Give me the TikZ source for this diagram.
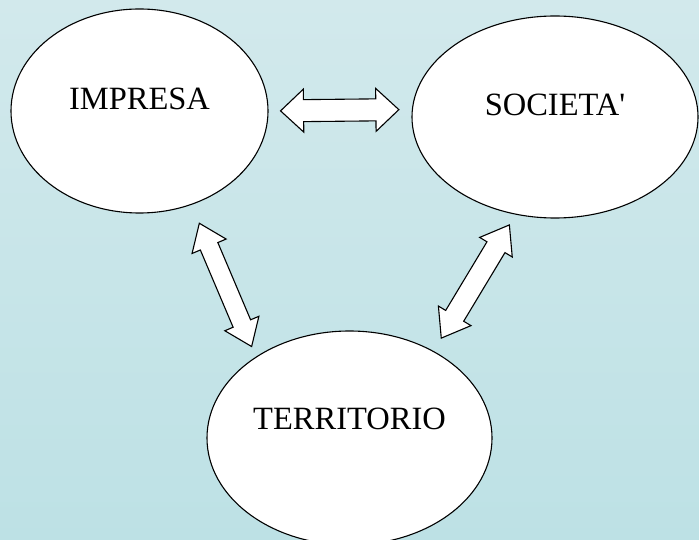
\documentclass[tikz,border=0pt]{standalone}
\usepackage{fontspec}
\setmainfont{Liberation Serif}
\usetikzlibrary{calc,shapes.geometric}
\definecolor{bgtop}{RGB}{210,233,236}
\definecolor{bgbot}{RGB}{189,225,229}
\tikzset{
  blob/.style={ellipse,draw,fill=white,line width=1.1bp,inner sep=0pt},
  word/.style={inner sep=0pt,font=\fontsize{32.5bp}{39bp}\selectfont},
  blockarrow/.style={draw,fill=white,line width=1.1bp,line join=miter}
}
% ends, shaft half width, head half width, head length
\newcommand{\dualarrow}[5]{%
  \draw[blockarrow] (#1)
    -- ($(#1)!#5!(#2)!#4!90:(#2)$)
    -- ($(#1)!#5!(#2)!#3!90:(#2)$)
    -- ($(#2)!#5!(#1)!#3!-90:(#1)$)
    -- ($(#2)!#5!(#1)!#4!-90:(#1)$)
    -- (#2)
    -- ($(#2)!#5!(#1)!#4!90:(#1)$)
    -- ($(#2)!#5!(#1)!#3!90:(#1)$)
    -- ($(#1)!#5!(#2)!#3!-90:(#2)$)
    -- ($(#1)!#5!(#2)!#4!-90:(#2)$)
    -- cycle;}
\begin{document}
\begin{tikzpicture}[x=1bp,y=-1bp]
	\useasboundingbox (0,0) rectangle (699,540);
	\clip (0,0) rectangle (699,540);
	\shade[top color=bgtop,bottom color=bgbot] (0,0) rectangle (699,540);
	
	\node[blob,minimum width=257bp,minimum height=204bp] (imp) at (139.5,111) {};
	\node[blob,minimum width=286bp,minimum height=202bp] (soc) at (555,117) {};
	\node[blob,minimum width=285bp,minimum height=214bp] (terr) at (349.5,438) {};
	
	\node[word] (imptxt) at ([yshift=12bp]imp.center) {IMPRESA};
	\node[word] (soctxt) at ([yshift=12bp]soc.center) {SOCIETA\textquotesingle};
	\node[word] (terrtxt) at ([yshift=19bp]terr.center) {TERRITORIO};
	
	\path ($(imp.0)!12bp!(soc.177.5)$) coordinate (IS)
	($(soc.177.5)!13bp!(imp.0)$) coordinate (SI)
	($(imp.-61)!20bp!(terr.139)$) coordinate (IT)
	($(terr.139)!11bp!(imp.-61)$) coordinate (TI)
	($(soc.-112.7)!12bp!(terr.46.5)$) coordinate (ST)
	($(terr.46.5)!15bp!(soc.-112.7)$) coordinate (TS)
	;
	\dualarrow{IS}{SI}{11bp}{21.5bp}{23bp}
	\dualarrow{IT}{TI}{9.5bp}{18.5bp}{25bp}
	\dualarrow{ST}{TS}{10.5bp}{19bp}{26bp}
\end{tikzpicture}
\end{document}
